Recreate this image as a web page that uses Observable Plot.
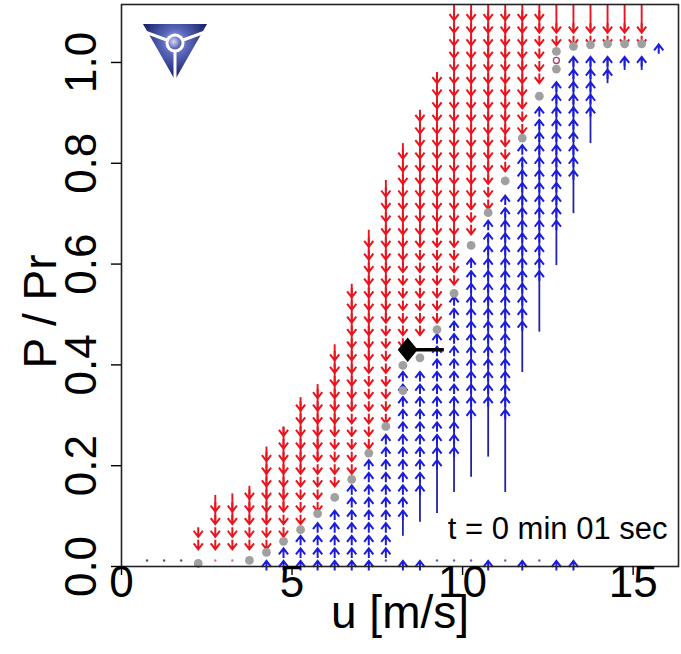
<!DOCTYPE html>
<html><head><meta charset="utf-8">
<script src="https://cdn.jsdelivr.net/npm/d3@7"></script>
<script src="https://cdn.jsdelivr.net/npm/@observablehq/plot@0.6"></script>
<style>
html,body{margin:0;padding:0;background:#fff;}
#chart{width:681px;height:654px;}
</style></head><body><div id="chart"></div>
<script>
// ---- tick labels ----
const xTicks = [0, 5, 10, 15];
const xTickLabels = ["0", "5", "10", "15"];
const yTicks = [0, 0.2, 0.4, 0.6, 0.8, 1.0];
const yTickLabels = ["0.0", "0.2", "0.4", "0.6", "0.8", "1.0"];
const xTitle = "u [m/s]";
const yTitle = "P / Pr";
const timeLabel = "t = 0 min 01 sec";

// ---- red (downward) arrows per column ----
const redU        = [2.25, 2.75, 3.25, 3.75, 4.25, 4.75, 5.25, 5.75, 6.25, 6.75, 7.25, 7.75, 8.25, 8.75, 9.25, 9.75, 10.25, 10.75, 11.25, 11.75, 12.25, 12.75, 13.25, 13.75, 14.25, 14.75, 15.25];
const redHeadTop  = [0.065, 0.115, 0.115, 0.14, 0.215, 0.265, 0.315, 0.34, 0.415, 0.54, 0.64, 0.74, 0.815, 0.89, 0.965, 1.09, 1.09, 1.09, 1.09, 1.09, 1.09, 1.065, 1.065, 1.065, 1.065, 1.065, 1.065];
const redHeadLow  = [0.04, 0.04, 0.04, 0.04, 0.04, 0.065, 0.09, 0.115, 0.165, 0.19, 0.24, 0.29, 0.44, 0.465, 0.49, 0.565, 0.665, 0.715, 0.79, 0.865, 0.965, 1.04, 1.04, 1.04, 1.04, 1.04, 1.04];
const redShaftTop = [null, 0.141, 0.144, 0.159, 0.237, 0.276, 0.335, 0.361, 0.44, 0.56, 0.667, 0.766, 0.839, 0.905, 0.98, 1.115, 1.115, 1.115, 1.115, 1.115, 1.115, 1.115, 1.115, 1.115, 1.115, 1.115, 1.115];
const redShaftBot = [null, 0.09, 0.09, 0.09, 0.09, 0.115, 0.19, 0.215, 0.265, 0.315, 0.39, 0.49, 0.59, 0.64, 0.665, 0.64, 0.715, 0.765, 0.84, 0.915, 1.065, 1.065, 1.065, 1.065, 1.065, 1.065, 1.065];

// ---- blue (upward) arrows per column ----
const blueU        = [4.25, 4.75, 5.25, 5.75, 6.25, 6.75, 7.25, 7.75, 8.25, 8.75, 9.25, 9.75, 10.25, 10.75, 11.25, 11.75, 12.25, 12.75, 13.25, 13.75, 14.25, 14.75, 15.25, 15.75];
const blueHeadTop  = [0.005, 0.03, 0.055, 0.08, 0.105, 0.155, 0.205, 0.255, 0.38, 0.38, 0.455, 0.53, 0.605, 0.68, 0.73, 0.83, 0.905, 0.955, 1.005, 1.005, 1.005, 1.005, 1.005, 1.03];
const blueHeadLow  = [0.005, 0.005, 0.005, 0.005, 0.005, 0.005, 0.005, 0.03, 0.105, 0.155, 0.205, 0.23, 0.305, 0.33, 0.305, 0.48, 0.58, 0.68, 0.78, 0.905, 0.98, 1.005, 1.005, 1.03];
const blueShaftTop = [null, null, null, null, null, null, null, null, 0.1, 0.18, 0.25, 0.33, 0.58, 0.65, 0.7, 0.8, 0.88, 0.955, 1.005, 1.005, 1.005, 1.005, 1.005, null];
const blueShaftBot = [null, null, null, null, null, null, null, null, 0.06, 0.088, 0.105, 0.147, 0.177, 0.217, 0.147, 0.385, 0.465, 0.597, 0.70, 0.839, 0.958, 0.984, 0.984, null];

// ---- bottom row markers ----
const bottomCaretU = [8.25, 8.75, 10.75, 11.75, 12.75, 13.25];
const bottomDotU = [0.75, 1.25, 1.75, 2.75, 3.25, 7.75, 9.25, 9.75, 10.25, 11.25, 12.25];
const bottomDotKind = ["g", "g", "g", "r", "r", "b", "b", "b", "b", "b", "b"];

// ---- grey power-curve points ----
const grayU = [2.25, 3.75, 4.25, 4.75, 5.25, 5.75, 6.25, 6.75, 7.25, 7.75, 8.25, 8.25, 8.75, 9.25, 9.75, 10.25, 10.75, 11.25, 11.75, 12.25, 12.75, 12.75, 13.25, 13.75, 14.25, 14.75, 15.25];
const grayP = [0.006, 0.012, 0.028, 0.05, 0.073, 0.105, 0.137, 0.173, 0.225, 0.278, 0.349, 0.399, 0.414, 0.47, 0.542, 0.637, 0.702, 0.765, 0.85, 0.933, 0.987, 1.022, 1.032, 1.035, 1.037, 1.037, 1.037];

// ---- current state marker ----
const markU = [12.75];
const markP = [1.004];
const stateU = 8.39, stateP = 0.43, stateU2 = 9.45;

// ---- derived tables ----
const STEP = 0.025;
const redHeads = [], blueHeads = [], redShafts = [], blueShafts = [];
redU.forEach((u, i) => {
  const n = Math.round((redHeadTop[i] - redHeadLow[i]) / STEP);
  for (let k = 0; k <= n; k++) redHeads.push({u, p: redHeadLow[i] + k * STEP});
  if (redShaftTop[i] != null) redShafts.push({u, a: redShaftTop[i], b: redShaftBot[i]});
});
blueU.forEach((u, i) => {
  const n = Math.round((blueHeadTop[i] - blueHeadLow[i]) / STEP);
  for (let k = 0; k <= n; k++) blueHeads.push({u, p: blueHeadLow[i] + k * STEP});
  if (blueShaftTop[i] != null) blueShafts.push({u, a: blueShaftTop[i], b: blueShaftBot[i]});
});
bottomCaretU.forEach(u => blueHeads.push({u, p: 0.005}));
const bottomDots = bottomDotU.map((u, i) => ({u, p: 0.012, k: bottomDotKind[i]}));
const grays = grayU.map((u, i) => ({u, p: grayP[i]}));

// ---- symbols ----
const chevDown = {draw(c) { c.moveTo(-4.6, -3); c.lineTo(0, 3); c.lineTo(4.6, -3); c.moveTo(0, 3); c.lineTo(0, -6.5); }};
const chevUp = {draw(c) { c.moveTo(-4.6, 3); c.lineTo(0, -3); c.lineTo(4.6, 3); c.moveTo(0, -3); c.lineTo(0, 6.5); }};
const diamond = {draw(c) { c.moveTo(0, -11); c.lineTo(9, 0); c.lineTo(0, 11); c.lineTo(-9, 0); c.closePath(); }};

const RED = "#e8141e", BLUE = "#1c1cdc", BLUE_SHAFT = "#2222a8";
const FONT = "'Liberation Sans', Arial, Helvetica, sans-serif";

const plot = Plot.plot({
  width: 681, height: 654,
  marginLeft: 121, marginRight: 3, marginTop: 4, marginBottom: 88,
  x: {domain: [0, 16.33], axis: null},
  y: {domain: [0, 1.115], axis: null},
  style: {fontFamily: FONT, background: "white", color: "black"},
  marks: [
    Plot.ruleX(redShafts, {x: "u", y1: "a", y2: "b", stroke: RED, strokeWidth: 1.9, clip: true}),
    Plot.ruleX(blueShafts, {x: "u", y1: "a", y2: "b", stroke: BLUE_SHAFT, strokeWidth: 1.8, clip: true}),
    Plot.dot(redHeads, {x: "u", y: "p", symbol: chevDown, r: 4, fill: "none", stroke: RED, strokeWidth: 2}),
    Plot.dot(blueHeads, {x: "u", y: "p", symbol: chevUp, r: 4, fill: "none", stroke: BLUE, strokeWidth: 2}),
    Plot.dot(bottomDots, {x: "u", y: "p", r: 1.2, stroke: "none",
      fill: d => d.k === "g" ? "#555" : d.k === "r" ? "#e07080" : "#6060b0"}),
    Plot.dot(grays, {x: "u", y: "p", r: 4.4, fill: "#a0a0a0", stroke: "none"}),
    Plot.dot(markU.map((u, i) => ({u, p: markP[i]})), {x: "u", y: "p", r: 3, fill: "none", stroke: "#b03a70", strokeWidth: 1.3}),
    Plot.link([{u1: stateU, u2: stateU2, p: stateP}], {x1: "u1", x2: "u2", y1: "p", y2: "p", stroke: "black", strokeWidth: 3.5}),
    Plot.dot([{u: stateU, p: stateP}], {x: "u", y: "p", symbol: diamond, r: 9, fill: "black", stroke: "black"}),
    Plot.frame({stroke: "#222", strokeWidth: 1.6}),
    Plot.axisX({ticks: xTicks, tickSize: 9, tickFormat: () => "", label: null, strokeWidth: 1.4}),
    Plot.axisY({ticks: yTicks, tickSize: 10, tickFormat: () => "", label: null, strokeWidth: 1.4}),
    Plot.text(xTicks, {x: d => d, text: (d, i) => xTickLabels[i], frameAnchor: "bottom", dy: 30, fontSize: 44, textAnchor: "middle", fill: "black"}),
    Plot.text(yTicks, {y: d => d, text: (d, i) => yTickLabels[i], frameAnchor: "left", dx: -40, rotate: -90, fontSize: 44, textAnchor: "middle", fill: "black"}),
    Plot.text([xTitle], {text: d => d, frameAnchor: "bottom", dy: 61, fontSize: 46, textAnchor: "middle", fill: "black"}),
    Plot.text([yTitle], {text: d => d, frameAnchor: "left", dx: -80, dy: 26, rotate: -90, fontSize: 46, textAnchor: "middle", fill: "black"}),
    Plot.text([timeLabel], {text: d => d, frameAnchor: "bottom-right", dx: -11, dy: -28, textAnchor: "end", fontSize: 31, fill: "black"})
  ]
});

document.getElementById("chart").appendChild(plot);

// ---- logo (decoration) ----
const svg = d3.select(plot);
const defs = svg.append("defs");
const g1 = defs.append("radialGradient").attr("id", "logoGrad").attr("gradientUnits", "userSpaceOnUse")
  .attr("cx", 175).attr("cy", 42).attr("r", 36);
g1.append("stop").attr("offset", "0").attr("stop-color", "#b4bbec");
g1.append("stop").attr("offset", "0.35").attr("stop-color", "#5a68bc");
g1.append("stop").attr("offset", "1").attr("stop-color", "#151d64");
const g2 = defs.append("radialGradient").attr("id", "logoBall").attr("cx", "40%").attr("cy", "40%").attr("r", "60%");
g2.append("stop").attr("offset", "0").attr("stop-color", "#d6d9f6");
g2.append("stop").attr("offset", "1").attr("stop-color", "#4c56a8");
const logo = svg.append("g");
logo.append("polygon").attr("points", "143,24 207,24 175,80").attr("fill", "url(#logoGrad)");
logo.append("path").attr("d", "M175,43 L145,32 M175,43 L205,32 M175,43 L175,82")
  .attr("stroke", "white").attr("stroke-width", 3).attr("fill", "none");
logo.append("circle").attr("cx", 175).attr("cy", 43).attr("r", 9.5).attr("fill", "white");
logo.append("circle").attr("cx", 175).attr("cy", 43).attr("r", 6.5).attr("fill", "url(#logoBall)");
</script>
</body></html>
